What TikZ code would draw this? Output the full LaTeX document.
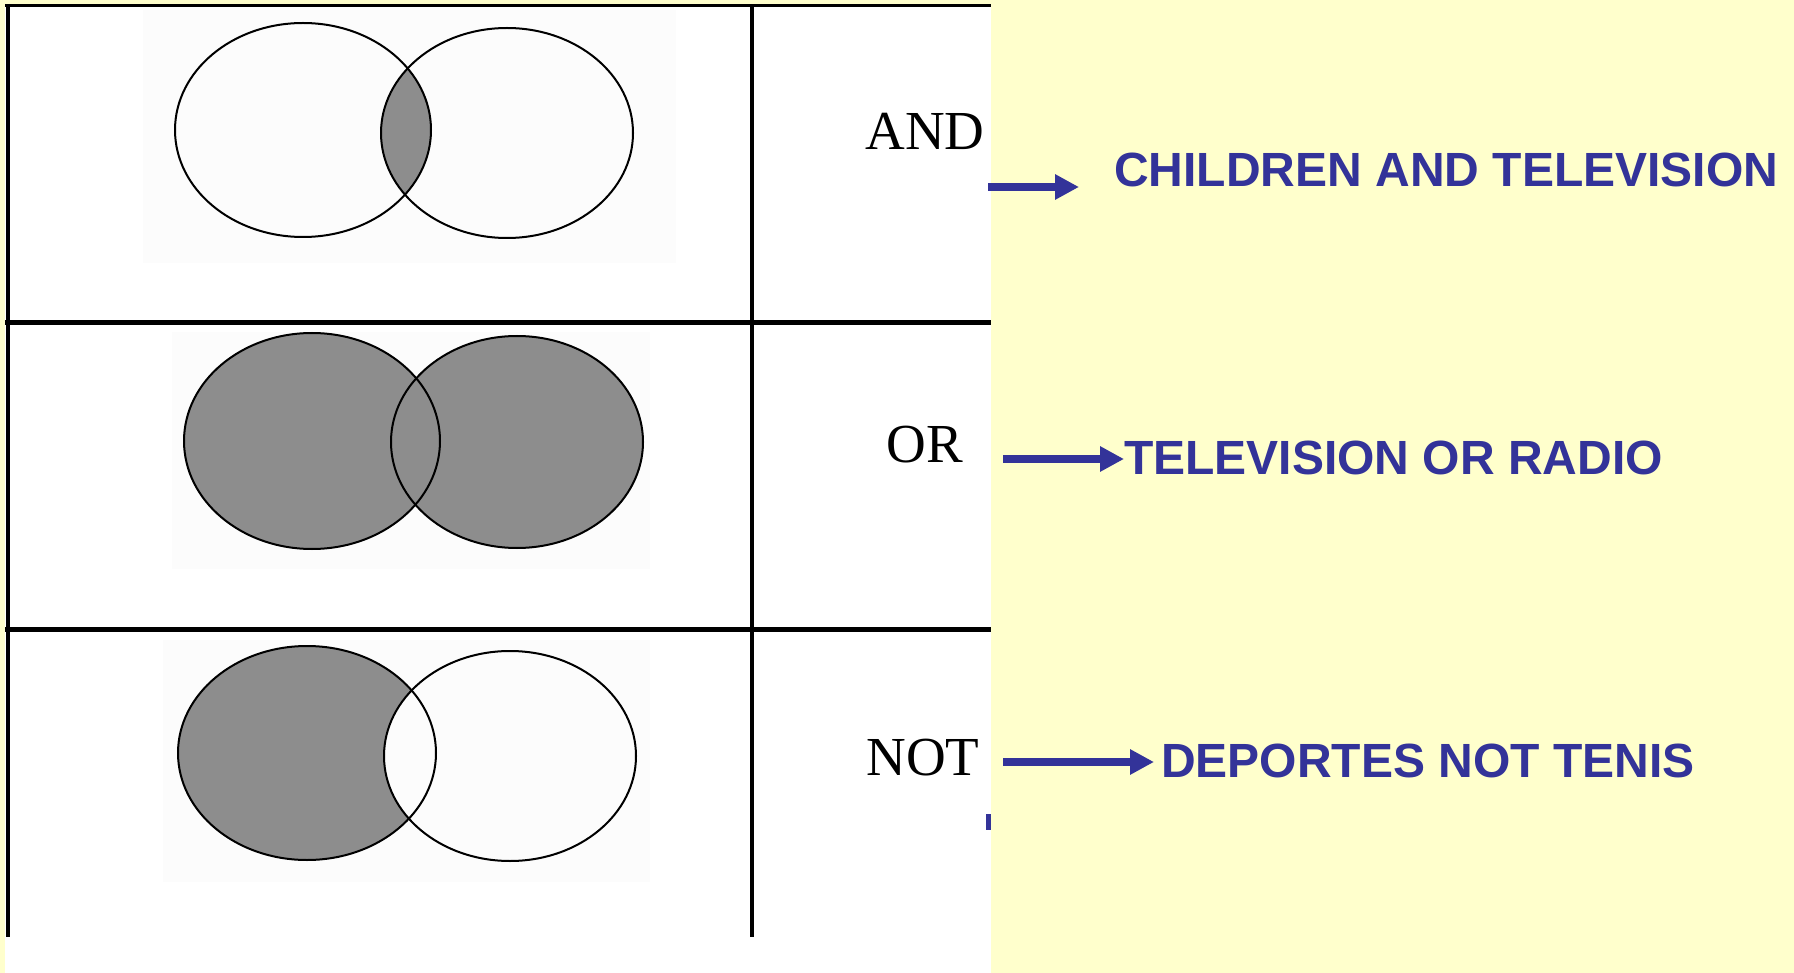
\documentclass[tikz,border=0pt]{standalone}
\usepackage{fontspec}
\setmainfont{Liberation Serif}
\setsansfont{Liberation Sans}
\usepackage{xcolor}
\usetikzlibrary{arrows.meta,calc}

\definecolor{slidebg}{RGB}{255,255,204}
\definecolor{slideblue}{RGB}{51,51,153}
\definecolor{vennfill}{RGB}{141,141,141}
\definecolor{scanbg}{RGB}{252,252,252}

\begin{document}
\begin{tikzpicture}[x=1pt, y=-1pt,
    venn/.style={draw=black, line width=2pt},
    gridline/.style={line width=4pt},
    rowline/.style={line width=5pt},
    oplabel/.style={font=\fontsize{55}{60}\selectfont, inner sep=0pt, anchor=base},
    bluelabel/.style={font=\sffamily\bfseries\fontsize{48}{52}\selectfont, text=slideblue, inner sep=0pt, anchor=base west},
    bluearrow/.style={draw=slideblue, line width=8pt, -{Triangle[length=24pt, width=24pt]}}
]
    \useasboundingbox (0,0) rectangle (1794,973);
    \fill[slidebg] (0,0) rectangle (1794,973);
    \fill[white] (5,4) rectangle (991,973);

    % scanned picture backgrounds
    \fill[scanbg] (143,10) rectangle (676,263);
    \fill[scanbg] (172,332) rectangle (650,569);
    \fill[scanbg] (163,640) rectangle (650,882);

    % AND
    \begin{scope}
        \clip (303,130) ellipse [x radius=128, y radius=107];
        \fill[vennfill] (507,133) ellipse [x radius=126, y radius=105];
    \end{scope}
    \draw[venn] (303,130) ellipse [x radius=128, y radius=107];
    \draw[venn] (507,133) ellipse [x radius=126, y radius=105];

    % OR
    \fill[vennfill] (312,441) ellipse [x radius=128, y radius=108];
    \fill[vennfill] (517,442) ellipse [x radius=126, y radius=106];
    \draw[venn] (312,441) ellipse [x radius=128, y radius=108];
    \draw[venn] (517,442) ellipse [x radius=126, y radius=106];

    % NOT
    \begin{scope}
        \clip (307,753) ellipse [x radius=129, y radius=107];
        \fill[vennfill] (307,753) ellipse [x radius=129, y radius=107];
        \fill[scanbg] (510,756) ellipse [x radius=126, y radius=105];
    \end{scope}
    \draw[venn] (307,753) ellipse [x radius=129, y radius=107];
    \draw[venn] (510,756) ellipse [x radius=126, y radius=105];

    % table
    \draw[gridline] (8,4) -- (8,937);
    \draw[gridline] (752,6) -- (752,937);
    \draw[line width=3pt] (5,6) -- (991,6);
    \draw[rowline] (5,323) -- (991,323);
    \draw[rowline] (5,629) -- (991,629);

    \node[oplabel] (and) at (925,150) {AND};
    \node[oplabel] (or) at (925,462) {OR};
    \node[oplabel] (not) at (923,775) {NOT};

    % examples
    \node[bluelabel] (children) at (1114,187) {CHILDREN AND TELEVISION};
    \node[bluelabel] (radio) at (1124,474) {TELEVISION OR RADIO};
    \node[bluelabel] (tenis) at (1161,777) {DEPORTES NOT TENIS};

    \coordinate (a1) at (988,187);
    \coordinate (a2) at (1003,459);
    \coordinate (a3) at (1003,762);
    \draw[bluearrow, shorten >=35pt] (a1) -- (a1 -| children.west);
    \draw[bluearrow] (a2) -- (a2 -| radio.west);
    \draw[bluearrow, shorten >=7pt] (a3) -- (a3 -| tenis.west);

    \fill[slideblue] (986,814) rectangle (991,830);
\end{tikzpicture}
\end{document}
